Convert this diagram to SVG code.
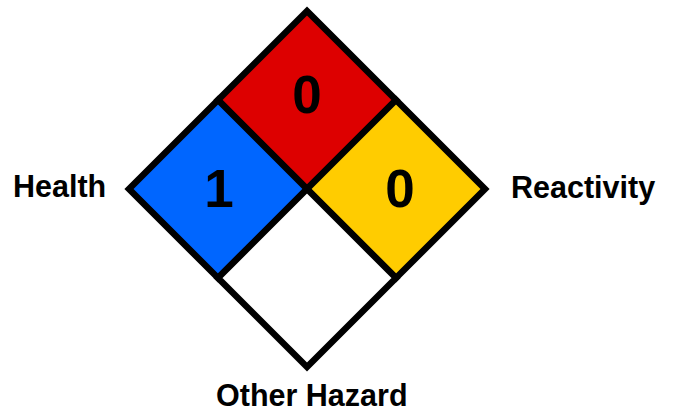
<svg xmlns="http://www.w3.org/2000/svg" width="676" height="411" viewBox="0 0 676 411">
<style>
.q{stroke:#000;stroke-width:6.5;stroke-linejoin:miter}
.n{font-family:"Liberation Sans",Arial,sans-serif;font-weight:bold;font-size:53px;text-anchor:middle;fill:#000}
.l{font-family:"Liberation Sans",Arial,sans-serif;font-weight:bold;font-size:30.5px;fill:#000}
</style>
<rect width="676" height="411" fill="#fff"/>
<g id="flammability">
<polygon class="q" points="307,11 396,100 307,189 218,100" fill="#dd0000"/>
<text class="n" x="307" y="113">0</text>
</g>
<g id="health">
<polygon class="q" points="218,100 307,189 218,278 129,189" fill="#0066ff"/>
<text class="n" x="219" y="207">1</text>
</g>
<g id="reactivity">
<polygon class="q" points="396,100 485,189 396,278 307,189" fill="#ffcc00"/>
<text class="n" x="400" y="207">0</text>
</g>
<g id="other">
<polygon class="q" points="307,189 396,278 307,367 218,278" fill="#fff"/>
</g>
<g id="labels">
<text class="l" x="13" y="197">Health</text>
<text class="l" x="511" y="198">Reactivity</text>
<text class="l" x="216" y="406">Other Hazard</text>
</g>
<g id="connectors"/>
</svg>
